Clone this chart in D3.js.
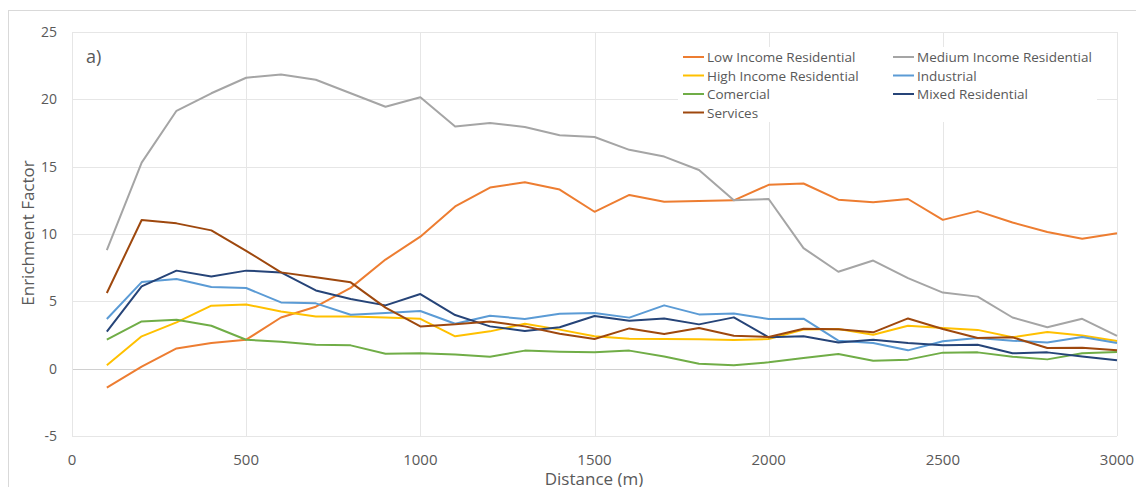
<!DOCTYPE html>
<html>
<head>
<meta charset="utf-8">
<script src="https://cdn.jsdelivr.net/npm/d3@7"></script>
<style>
  body { margin: 0; background: #fff; }
  text { font-family: "Open Sans", sans-serif; fill: #595959; }
</style>
</head>
<body>
<script>
// distances (m)
var distances = [100, 200, 300, 400, 500, 600, 700, 800, 900, 1000,
  1100, 1200, 1300, 1400, 1500, 1600, 1700, 1800, 1900, 2000,
  2100, 2200, 2300, 2400, 2500, 2600, 2700, 2800, 2900, 3000];

var lowIncome = [-1.4, 0.15, 1.5, 1.9, 2.15, 3.8, 4.6, 6.0, 8.1, 9.8,
  12.05, 13.45, 13.85, 13.3, 11.65, 12.9, 12.4, 12.45, 12.5, 13.65,
  13.75, 12.55, 12.35, 12.6, 11.05, 11.7, 10.85, 10.15, 9.65, 10.05];
var mediumIncome = [8.8, 15.3, 19.15, 20.45, 21.6, 21.85, 21.45, 20.45, 19.45, 20.15,
  17.98, 18.25, 17.95, 17.33, 17.2, 16.25, 15.75, 14.75, 12.5, 12.6,
  8.95, 7.2, 8.03, 6.72, 5.65, 5.35, 3.8, 3.08, 3.7, 2.43];
var highIncome = [0.25, 2.4, 3.44, 4.68, 4.77, 4.25, 3.88, 3.88, 3.8, 3.7,
  2.4, 2.77, 3.33, 2.9, 2.4, 2.23, 2.2, 2.18, 2.13, 2.2,
  2.9, 2.95, 2.52, 3.18, 3.02, 2.88, 2.33, 2.72, 2.46, 2.05];
var industrial = [3.69, 6.43, 6.66, 6.06, 5.99, 4.92, 4.85, 4.0, 4.13, 4.28,
  3.34, 3.93, 3.69, 4.08, 4.13, 3.79, 4.7, 4.03, 4.1, 3.69,
  3.71, 2.08, 1.9, 1.36, 2.03, 2.28, 2.08, 1.95, 2.35, 1.9];
var comercial = [2.15, 3.51, 3.64, 3.19, 2.15, 2.0, 1.78, 1.73, 1.11, 1.14,
  1.06, 0.89, 1.34, 1.26, 1.21, 1.34, 0.91, 0.37, 0.25, 0.47,
  0.79, 1.09, 0.59, 0.67, 1.19, 1.21, 0.89, 0.69, 1.14, 1.24];
var mixedResidential = [2.75, 6.11, 7.28, 6.85, 7.28, 7.15, 5.81, 5.17, 4.7, 5.54,
  3.98, 3.14, 2.8, 3.07, 3.91, 3.56, 3.73, 3.29, 3.81, 2.33,
  2.4, 1.95, 2.15, 1.9, 1.73, 1.78, 1.14, 1.21, 0.91, 0.62];
var services = [5.62, 11.04, 10.79, 10.27, 8.75, 7.15, 6.78, 6.41, 4.53, 3.14,
  3.29, 3.51, 3.14, 2.6, 2.2, 2.99, 2.57, 3.02, 2.45, 2.35,
  2.97, 2.92, 2.7, 3.73, 2.95, 2.28, 2.33, 1.54, 1.56, 1.36];

var seriesNames = ["Low Income Residential", "Medium Income Residential",
  "High Income Residential", "Industrial", "Comercial", "Mixed Residential", "Services"];
var seriesValues = [lowIncome, mediumIncome, highIncome, industrial, comercial, mixedResidential, services];
var seriesColors = ["#ED7D31", "#A5A5A5", "#FFC000", "#5B9BD5", "#70AD47", "#264478", "#9E480E"];

var xTicks = [0, 500, 1000, 1500, 2000, 2500, 3000];
var yTicks = [-5, 0, 5, 10, 15, 20, 25];

var width = 1136, height = 487;
var svg = d3.select("body").append("svg").attr("width", width).attr("height", height);

// chart area border
svg.append("rect")
  .attr("x", 8.5).attr("y", 10.5)
  .attr("width", 1200).attr("height", 600)
  .attr("fill", "none").attr("stroke", "#d9d9d9");

var x = d3.scaleLinear().domain([0, 3000]).range([72, 1117]);
var y = d3.scaleLinear().domain([-5, 25]).range([436, 32]);

// gridlines
svg.append("g").selectAll("line.h")
  .data(yTicks).enter().append("line")
  .attr("x1", x(0)).attr("x2", x(3000))
  .attr("y1", d => Math.round(y(d)) + 0.5).attr("y2", d => Math.round(y(d)) + 0.5)
  .attr("stroke", d => d === 0 ? "#d0d0d0" : "#e6e6e6");
svg.append("g").selectAll("line.v")
  .data(xTicks).enter().append("line")
  .attr("y1", y(25)).attr("y2", y(-5))
  .attr("x1", d => Math.round(x(d)) + 0.5).attr("x2", d => Math.round(x(d)) + 0.5)
  .attr("stroke", "#e6e6e6");

// y tick labels
svg.append("g").selectAll("text")
  .data(yTicks).enter().append("text")
  .attr("x", 57).attr("y", d => y(d) + 5)
  .attr("text-anchor", "end")
  .attr("font-size", 14)
  .text(d => d);

// x tick labels
svg.append("g").selectAll("text")
  .data(xTicks).enter().append("text")
  .attr("x", d => x(d)).attr("y", 465)
  .attr("text-anchor", "middle")
  .attr("font-size", 15)
  .text(d => d);

// axis titles
svg.append("text")
  .attr("x", 594).attr("y", 485)
  .attr("text-anchor", "middle")
  .attr("font-size", 17)
  .text("Distance (m)");
svg.append("text")
  .attr("transform", "translate(34,233) rotate(-90)")
  .attr("text-anchor", "middle")
  .attr("font-size", 17)
  .text("Enrichment Factor");

svg.append("text")
  .attr("x", 86).attr("y", 63)
  .attr("font-size", 18)
  .text("a)");

// lines
var line = d3.line()
  .x((d, i) => x(distances[i]))
  .y(d => y(d));

svg.append("g").selectAll("path")
  .data(seriesValues).enter().append("path")
  .attr("d", d => line(d))
  .attr("fill", "none")
  .attr("stroke", (d, i) => seriesColors[i])
  .attr("stroke-width", 2)
  .attr("stroke-linejoin", "round");

// legend
var legend = svg.append("g");
legend.append("rect")
  .attr("x", 678).attr("y", 47)
  .attr("width", 419).attr("height", 75)
  .attr("fill", "#fff");

var legendPos = [[683, 57], [893, 57], [683, 75.5], [893, 75.5], [683, 94], [893, 94], [683, 112.5]];
var item = legend.selectAll("g.item")
  .data(seriesNames).enter().append("g")
  .attr("transform", (d, i) => `translate(${legendPos[i][0]},${legendPos[i][1]})`);
item.append("line")
  .attr("x1", 0).attr("x2", 21)
  .attr("stroke", (d, i) => seriesColors[i])
  .attr("stroke-width", 2);
item.append("text")
  .attr("x", 24).attr("y", 5)
  .attr("font-size", 13.5)
  .text(d => d);
</script>
</body>
</html>
